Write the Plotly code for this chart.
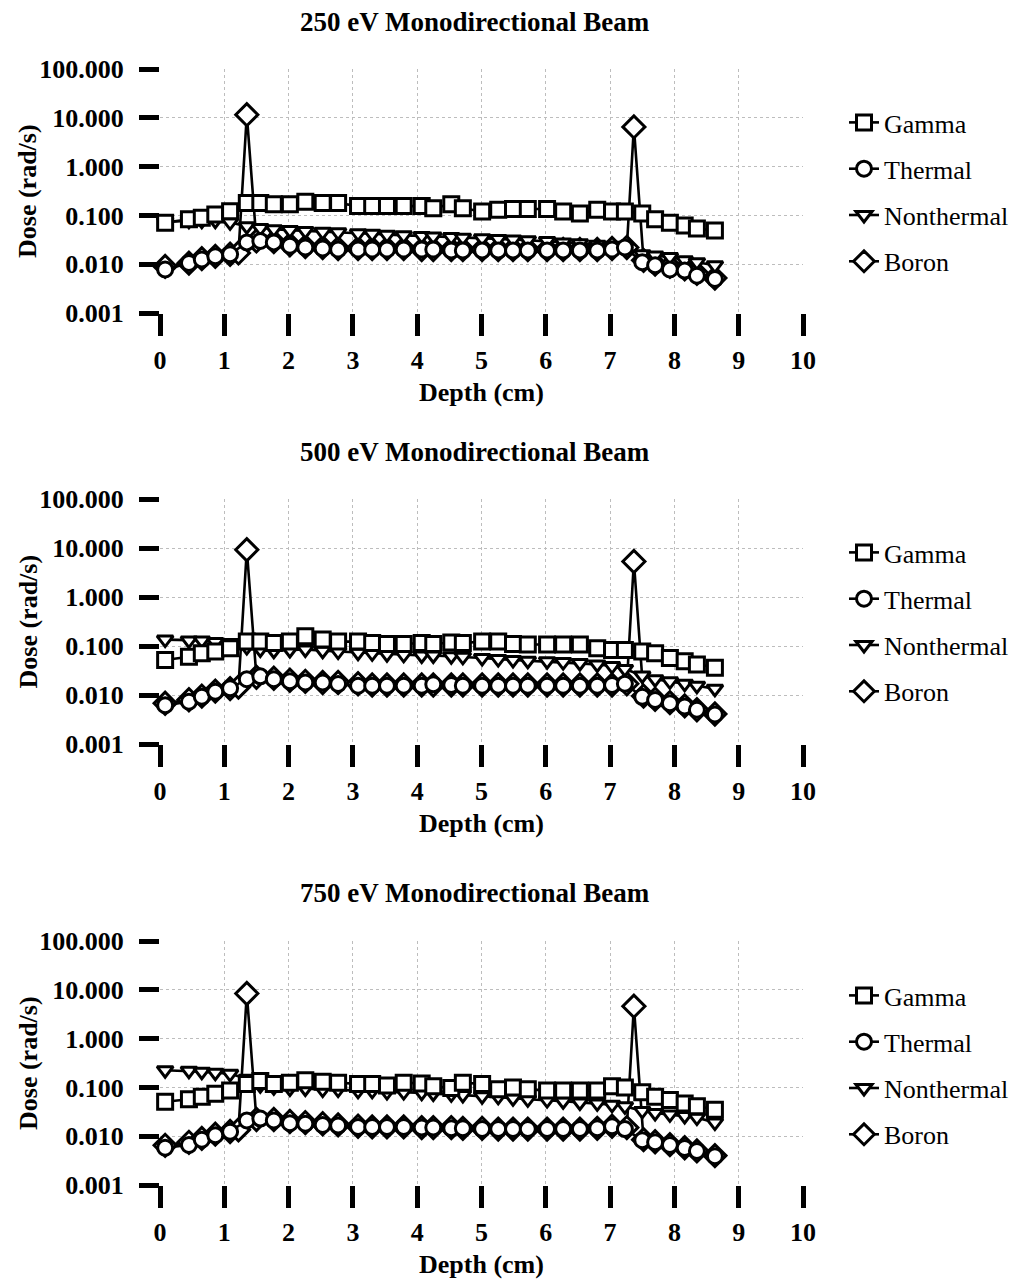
import plotly.graph_objects as go

# ---------------- data ----------------
depth = [0.08, 0.45, 0.65, 0.86, 1.09, 1.35, 1.56, 1.77, 2.02, 2.26, 2.53, 2.77,
         3.08, 3.30, 3.53, 3.79, 4.07, 4.25, 4.53, 4.71, 5.01, 5.26, 5.49, 5.72,
         6.02, 6.27, 6.53, 6.80, 7.03, 7.23, 7.50, 7.70, 7.93, 8.16, 8.35, 8.63]

boron_depth = [0.08, 0.45, 0.65, 0.86, 1.09, 1.22, 1.35, 1.50, 1.77, 2.02, 2.26, 2.53,
               2.77, 3.08, 3.30, 3.53, 3.79, 4.07, 4.25, 4.53, 4.71, 5.01, 5.26, 5.49,
               5.72, 6.02, 6.27, 6.53, 6.80, 7.03, 7.26, 7.37, 7.52, 7.70, 7.93, 8.16,
               8.35, 8.63]

titles = ["250 eV Monodirectional Beam", "500 eV Monodirectional Beam",
          "750 eV Monodirectional Beam"]

gamma_250 = [0.071, 0.083, 0.089, 0.104, 0.121, 0.18, 0.18, 0.17, 0.17, 0.19, 0.18, 0.18,
             0.155, 0.155, 0.155, 0.155, 0.155, 0.14, 0.17, 0.14, 0.12, 0.13, 0.135, 0.135,
             0.135, 0.12, 0.11, 0.13, 0.12, 0.12, 0.11, 0.083, 0.071, 0.062, 0.054, 0.049]
thermal_250 = [0.0078, 0.0106, 0.0125, 0.0145, 0.016, 0.028, 0.030, 0.028, 0.024, 0.022, 0.021, 0.020,
               0.020, 0.020, 0.020, 0.020, 0.020, 0.020, 0.019, 0.019, 0.019, 0.019, 0.019, 0.019,
               0.019, 0.019, 0.019, 0.019, 0.020, 0.022, 0.011, 0.0095, 0.0078, 0.0074, 0.0058, 0.005]
nonthermal_250 = [0.075, 0.078, 0.078, 0.078, 0.072, 0.06, 0.055, 0.052, 0.05, 0.048, 0.046, 0.045,
                  0.043, 0.042, 0.04, 0.039, 0.038, 0.037, 0.036, 0.035, 0.034, 0.033, 0.032, 0.031,
                  0.030, 0.028, 0.027, 0.025, 0.024, 0.022, 0.016, 0.015, 0.014, 0.012, 0.011, 0.0095]
boron_250 = [0.009, 0.0105, 0.013, 0.0145, 0.016, 0.017, 11.6, 0.03, 0.029, 0.025, 0.023, 0.022,
             0.021, 0.021, 0.021, 0.021, 0.021, 0.02, 0.02, 0.02, 0.02, 0.02, 0.02, 0.02,
             0.02, 0.02, 0.02, 0.02, 0.02, 0.021, 0.022, 6.5, 0.012, 0.01, 0.009, 0.008,
             0.0065, 0.0052]

gamma_500 = [0.052, 0.0605, 0.071, 0.077, 0.090, 0.123, 0.123, 0.115, 0.123, 0.158, 0.135, 0.123,
             0.123, 0.115, 0.11, 0.11, 0.115, 0.11, 0.118, 0.115, 0.123, 0.123, 0.11, 0.107,
             0.107, 0.107, 0.107, 0.09, 0.083, 0.083, 0.077, 0.071, 0.057, 0.049, 0.042, 0.036]
thermal_500 = [0.0062, 0.0073, 0.0092, 0.0117, 0.0137, 0.021, 0.024, 0.021, 0.019, 0.018, 0.018, 0.0168,
               0.0155, 0.0155, 0.0155, 0.0155, 0.0155, 0.0165, 0.016, 0.0155, 0.0155, 0.0155, 0.0155, 0.0155,
               0.0155, 0.0155, 0.0155, 0.0155, 0.016, 0.017, 0.0092, 0.0079, 0.0068, 0.0058, 0.005, 0.004]
nonthermal_500 = [0.135, 0.13, 0.13, 0.12, 0.115, 0.095, 0.085, 0.08, 0.083, 0.085, 0.08, 0.077,
                  0.073, 0.071, 0.068, 0.066, 0.064, 0.064, 0.062, 0.06, 0.057, 0.054, 0.052, 0.05,
                  0.049, 0.047, 0.045, 0.042, 0.039, 0.034, 0.025, 0.021, 0.019, 0.017, 0.0155, 0.0134]
boron_500 = [0.0068, 0.008, 0.0095, 0.012, 0.0135, 0.0145, 9.2, 0.023, 0.022, 0.02, 0.019, 0.018,
             0.018, 0.017, 0.016, 0.016, 0.016, 0.016, 0.016, 0.016, 0.016, 0.016, 0.016, 0.016,
             0.016, 0.016, 0.016, 0.016, 0.016, 0.016, 0.017, 5.3, 0.0095, 0.0082, 0.007, 0.006,
             0.005, 0.0041]

gamma_750 = [0.051, 0.057, 0.064, 0.074, 0.086, 0.117, 0.135, 0.117, 0.125, 0.14, 0.13, 0.125,
             0.117, 0.117, 0.11, 0.125, 0.12, 0.105, 0.097, 0.125, 0.117, 0.092, 0.1, 0.092,
             0.086, 0.086, 0.086, 0.086, 0.106, 0.1, 0.08, 0.064, 0.055, 0.047, 0.041, 0.035]
thermal_750 = [0.0058, 0.0066, 0.0085, 0.0105, 0.0124, 0.021, 0.023, 0.021, 0.0185, 0.018, 0.017, 0.0165,
               0.0155, 0.0155, 0.0155, 0.0155, 0.015, 0.015, 0.0145, 0.0145, 0.014, 0.014, 0.014, 0.014,
               0.014, 0.014, 0.014, 0.0145, 0.016, 0.014, 0.0083, 0.0075, 0.0066, 0.0057, 0.005, 0.0039]
nonthermal_750 = [0.225, 0.22, 0.21, 0.2, 0.19, 0.15, 0.11, 0.1, 0.095, 0.095, 0.09, 0.09,
                  0.085, 0.085, 0.08, 0.08, 0.078, 0.075, 0.072, 0.07, 0.066, 0.064, 0.06, 0.057,
                  0.055, 0.052, 0.049, 0.047, 0.044, 0.041, 0.033, 0.03, 0.028, 0.026, 0.024, 0.019]
boron_750 = [0.0065, 0.0075, 0.009, 0.011, 0.0125, 0.0135, 8.4, 0.022, 0.022, 0.02, 0.019, 0.018,
             0.017, 0.016, 0.0155, 0.0155, 0.0155, 0.015, 0.015, 0.015, 0.0145, 0.0145, 0.014, 0.014,
             0.014, 0.014, 0.014, 0.014, 0.0145, 0.016, 0.015, 4.6, 0.0085, 0.0077, 0.0067, 0.0058,
             0.005, 0.004]

panels = [
    {"Gamma": gamma_250, "Thermal": thermal_250, "Nonthermal": nonthermal_250, "Boron": boron_250},
    {"Gamma": gamma_500, "Thermal": thermal_500, "Nonthermal": nonthermal_500, "Boron": boron_500},
    {"Gamma": gamma_750, "Thermal": thermal_750, "Nonthermal": nonthermal_750, "Boron": boron_750},
]

y_tickvals = [0.001, 0.01, 0.1, 1, 10, 100]
y_ticktext = ["0.001", "0.010", "0.100", "1.000", "10.000", "100.000"]
x_tickvals = [0, 1, 2, 3, 4, 5, 6, 7, 8, 9, 10]

# ---------------- layout geometry ----------------
W, H = 1017, 1280


def px_x(target):
    return target / W


def px_y(target):
    return 1 - target / H


# targets in page pixels
x_left, x_right = 160, 803                          # x = 0 and x = 10
panel_px = [(69, 313), (499, 744), (941, 1185)]     # top, bottom of plot areas
title_px = [22, 452, 893]
legend_top_px = [99, 529, 972]

SERIF = "Liberation Serif, Times New Roman, serif"
FS = 26

fig = go.Figure()

# drawing order (bottom -> top); legend order is set by legendrank
draw_order = ["Boron", "Nonthermal", "Thermal", "Gamma"]
rank = {"Gamma": 1, "Thermal": 2, "Nonthermal": 3, "Boron": 4}
symbol = {"Gamma": "square", "Thermal": "circle", "Nonthermal": "triangle-down", "Boron": "diamond"}
msize = {"Gamma": 15, "Thermal": 15, "Nonthermal": 14, "Boron": 17}

for i, series in enumerate(panels):
    xa = "x" if i == 0 else f"x{i+1}"
    ya = "y" if i == 0 else f"y{i+1}"
    lg = "legend" if i == 0 else f"legend{i+1}"
    for nm in draw_order:
        xs = boron_depth if nm == "Boron" else depth
        fig.add_trace(go.Scatter(
            x=xs, y=series[nm], name=nm, mode="lines+markers",
            xaxis=xa, yaxis=ya, legend=lg, legendgroup=f"{nm}{i}",
            legendrank=rank[nm],
            line=dict(color="black", width=2.6),
            marker=dict(symbol=symbol[nm], size=msize[nm], color="white",
                        line=dict(color="black", width=3)),
            cliponaxis=False,
        ))

layout = dict(
    width=W, height=H,
    margin=dict(l=0, r=0, t=0, b=0, autoexpand=False),
    paper_bgcolor="white", plot_bgcolor="white",
    font=dict(family=SERIF, color="black"),
    showlegend=True,
)

annotations = []
for i, (top, bot) in enumerate(panel_px):
    sfx = "" if i == 0 else str(i + 1)
    layout[f"xaxis{sfx}"] = dict(
        domain=[px_x(x_left), px_x(x_right)], range=[0, 10],
        anchor=f"y{sfx}", automargin=False,
        tickvals=x_tickvals, ticks="outside", ticklen=22, tickwidth=5, tickcolor="black",
        ticklabelstandoff=2,
        tickfont=dict(family=SERIF, size=FS, color="black", weight="bold"),
        showline=False, zeroline=False,
        showgrid=True, gridcolor="#bdbdbd", griddash="dot", gridwidth=1,
        title=dict(text="<b>Depth (cm)</b>", font=dict(family=SERIF, size=FS), standoff=8),
    )
    layout[f"yaxis{sfx}"] = dict(
        domain=[px_y(bot), px_y(top)], type="log", range=[-3, 2],
        anchor=f"x{sfx}", automargin=False,
        tickvals=y_tickvals, ticktext=y_ticktext,
        ticks="outside", ticklen=20, tickwidth=5, tickcolor="black",
        ticklabelstandoff=10,
        tickfont=dict(family=SERIF, size=FS, color="black", weight="bold"),
        showline=False, zeroline=False,
        showgrid=True, gridcolor="#bdbdbd", griddash="dot", gridwidth=1,
    )
    lname = "legend" if i == 0 else f"legend{i+1}"
    layout[lname] = dict(
        x=px_x(844), xanchor="left",
        y=px_y(legend_top_px[i]), yanchor="top",
        font=dict(family=SERIF, size=FS, color="black"),
        bgcolor="rgba(0,0,0,0)", borderwidth=0,
        tracegroupgap=9.5, itemwidth=30,
    )
    annotations.append(dict(
        text=f"<b>{titles[i]}</b>", xref="paper", yref="paper",
        x=px_x(475), y=px_y(title_px[i]),
        xanchor="center", yanchor="middle", showarrow=False,
        font=dict(family=SERIF, size=27, color="black"),
    ))
    annotations.append(dict(
        text="<b>Dose (rad/s)</b>", xref="paper", yref="paper",
        x=px_x(28), y=px_y((top + bot) / 2),
        xanchor="center", yanchor="middle", showarrow=False, textangle=-90,
        font=dict(family=SERIF, size=FS, color="black"),
    ))

layout["annotations"] = annotations
fig.update_layout(**layout)

fig.write_html("out.html")
